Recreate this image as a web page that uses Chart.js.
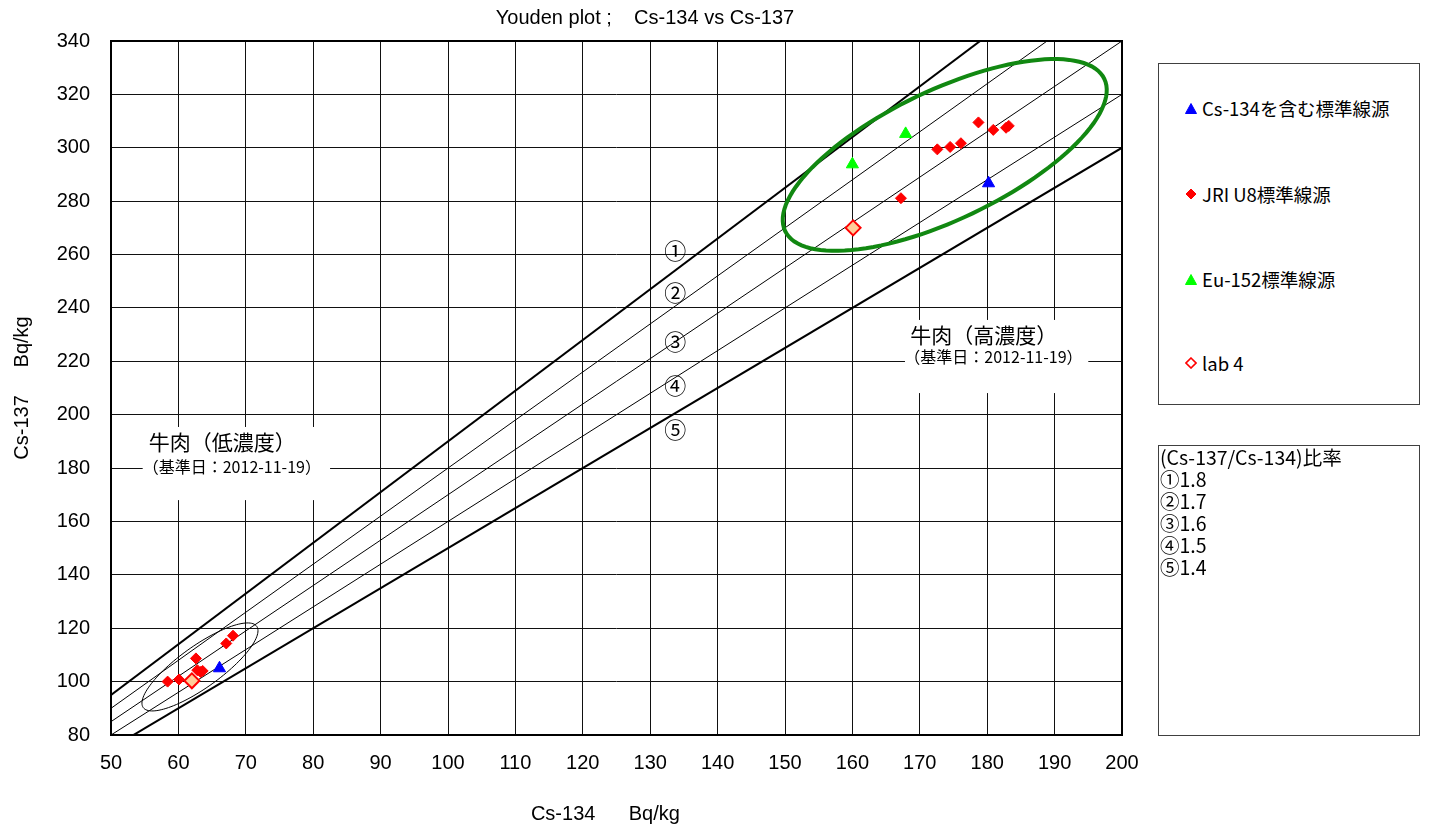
<!DOCTYPE html>
<html>
<head>
<meta charset="utf-8">
<title>Youden plot</title>
<script src="https://cdn.jsdelivr.net/npm/chart.js@4.4.1/dist/chart.umd.min.js"></script>
<style>
	body { margin: 0; background: #fff; }
	#chart-container { position: relative; width: 1429px; height: 828px; }
	#myChart { position: absolute; left: 0; top: 0; }
	.legendBox {
		position: absolute;
		box-sizing: border-box;
		border: 1px solid #404040;
		background: #fff;
		font-family: 'Noto Sans CJK JP', sans-serif;
		color: #000;
	}
	.legendItem { position: absolute; left: 26px; height: 26px; display: flex; align-items: center; white-space: nowrap; font-size: 18.5px; }
	.legendItem svg { margin-right: 5px; }
	.ratioLine { height: 22px; line-height: 22px; white-space: nowrap; font-size: 19.5px; }
</style>
</head>
<body>
<div id="chart-container">
	<canvas id="myChart" width="1429" height="828"></canvas>
	<div id="seriesLegend" class="legendBox" style="left:1158px; top:63px; width:262px; height:342px;"></div>
	<div id="ratioLegend" class="legendBox" style="left:1158px; top:445px; width:262px; height:291px; padding-left:1px;"></div>
</div>
<script>
	//Axis Ticks
	var xTickValues = [50, 60, 70, 80, 90, 100, 110, 120, 130, 140, 150, 160, 170, 180, 190, 200];
	var yTickValues = [80, 100, 120, 140, 160, 180, 200, 220, 240, 260, 280, 300, 320, 340];

	//Series Names
	var seriesNames = ["lab 4", "Cs-134を含む標準線源", "JRI U8標準線源", "Eu-152標準線源"];

	//Series Values (Cs-134, Cs-137)
	var lab4X = [160.1, 62.0];
	var lab4Y = [270.0, 100.3];
	var cs134StdX = [180.2, 66.1];
	var cs134StdY = [286.7, 105.0];
	var jriX = [167.2, 172.6, 174.5, 176.1, 178.7, 180.9, 182.8, 183.2, 58.4, 60.1, 62.6, 62.8, 63.3, 63.6, 67.1, 68.1];
	var jriY = [281.1, 299.4, 300.3, 301.7, 309.5, 306.7, 307.5, 308.2, 100.0, 100.8, 108.7, 104.3, 103.6, 104.0, 114.3, 117.2];
	var euX = [160.0, 167.9];
	var euY = [293.8, 305.2];

	//Ratio Lines (Cs-137/Cs-134) as drawn, and the ratio legend text
	var ratioLineValues = [1.9, 1.8, 1.7, 1.6, 1.5];
	var ratioMarks = ["①", "②", "③", "④", "⑤"];
	var ratioLegendValues = ["1.8", "1.7", "1.6", "1.5", "1.4"];
	var ratioLegendTitle = "(Cs-137/Cs-134)比率";

	//Sample Labels
	var sampleTitles = ["牛肉（高濃度）", "牛肉（低濃度）"];
	var sampleDates = ["（基準日：2012-11-19）", "（基準日：2012-11-19）"];

	//Styles and Placement (data units)
	var ratioLineWidths = [2, 1, 1, 1, 2];
	var ratioMarkX = 133.7;
	var ratioMarkY = [261.3, 245.6, 227.2, 210.7, 194.3];
	var sampleBoxes = [
		{ x0: 167.8, x1: 195.0, y0: 208.1, y1: 235.5, textX: 168.6, titleY: 229.8, dateY: 221.6 },
		{ x0: 54.7, x1: 82.5, y0: 168.0, y1: 195.4, textX: 55.6, titleY: 189.8, dateY: 180.4 }
	];
	var ellipses = [
		{ center: [173.7, 297.3], u: [23.68, 28.5], v: [4.13, -21.88], color: "#118811", width: 4 },
		{ center: [63.2, 105.5], u: [8.42, 15.22], v: [1.797, -6.34], color: "#000000", width: 1 }
	];

	var latinFont = "'Liberation Sans', Arial, sans-serif";
	var cjkFont = "'Noto Sans CJK JP', sans-serif";

	function toPoints(xs, ys) {
		var pts = [];
		for (var i = 0; i < xs.length; i++) {
			pts.push({ x: xs[i], y: ys[i] });
		}
		return pts;
	}

	//Build Datasets - first in list is drawn on top
	var datasets = [
		{
			label: seriesNames[0],
			data: toPoints(lab4X, lab4Y),
			pointStyle: "rectRot",
			pointRadius: 7.5,
			backgroundColor: "#ffcc99",
			borderColor: "#ff0000",
			borderWidth: 2
		},
		{
			label: seriesNames[1],
			data: toPoints(cs134StdX, cs134StdY),
			pointStyle: "triangle",
			pointRadius: 7,
			backgroundColor: "#0000ff",
			borderColor: "#0000ff",
			borderWidth: 1
		},
		{
			label: seriesNames[2],
			data: toPoints(jriX, jriY),
			pointStyle: "rectRot",
			pointRadius: 5.5,
			backgroundColor: "#ff0000",
			borderColor: "#ff0000",
			borderWidth: 1
		},
		{
			label: seriesNames[3],
			data: toPoints(euX, euY),
			pointStyle: "triangle",
			pointRadius: 7,
			backgroundColor: "#00ff00",
			borderColor: "#00ff00",
			borderWidth: 1
		}
	];
	var firstPointIndex = datasets.length - 1;

	//Ratio lines through the origin
	for (var r = 0; r < ratioLineValues.length; r++) {
		datasets.push({
			label: "ratio " + ratioLineValues[r],
			data: [{ x: 40, y: 40 * ratioLineValues[r] }, { x: 210, y: 210 * ratioLineValues[r] }],
			showLine: true,
			pointRadius: 0,
			borderColor: "#000000",
			borderWidth: ratioLineWidths[r],
			fill: false
		});
	}

	//Ellipses, sample label boxes and ratio marks
	var annotationPlugin = {
		id: "annotations",
		beforeDatasetDraw: function (chart, args) {
			if (args.index !== firstPointIndex) return;
			var ctx = chart.ctx;
			var xs = chart.scales.x;
			var ys = chart.scales.y;

			ctx.save();
			//Sample label boxes
			for (var b = 0; b < sampleBoxes.length; b++) {
				var box = sampleBoxes[b];
				var left = xs.getPixelForValue(box.x0);
				var right = xs.getPixelForValue(box.x1);
				var top = ys.getPixelForValue(box.y1);
				var bottom = ys.getPixelForValue(box.y0);
				ctx.fillStyle = "#ffffff";
				ctx.fillRect(left, top, right - left, bottom - top);
				ctx.fillStyle = "#000000";
				ctx.textAlign = "left";
				ctx.textBaseline = "middle";
				ctx.font = "21px " + cjkFont;
				ctx.fillText(sampleTitles[b], xs.getPixelForValue(box.textX), ys.getPixelForValue(box.titleY));
				ctx.font = "16px " + cjkFont;
				ctx.fillText(sampleDates[b], xs.getPixelForValue(box.textX) - 6, ys.getPixelForValue(box.dateY));
			}

			//Ellipses
			for (var e = 0; e < ellipses.length; e++) {
				var el = ellipses[e];
				var cx = xs.getPixelForValue(el.center[0]);
				var cy = ys.getPixelForValue(el.center[1]);
				var ux = xs.getPixelForValue(el.center[0] + el.u[0]) - cx;
				var uy = ys.getPixelForValue(el.center[1] + el.u[1]) - cy;
				var vx = xs.getPixelForValue(el.center[0] + el.v[0]) - cx;
				var vy = ys.getPixelForValue(el.center[1] + el.v[1]) - cy;
				ctx.beginPath();
				for (var i = 0; i <= 120; i++) {
					var t = i / 120 * Math.PI * 2;
					var px = cx + ux * Math.cos(t) + vx * Math.sin(t);
					var py = cy + uy * Math.cos(t) + vy * Math.sin(t);
					if (i === 0) ctx.moveTo(px, py); else ctx.lineTo(px, py);
				}
				ctx.closePath();
				ctx.strokeStyle = el.color;
				ctx.lineWidth = el.width;
				ctx.stroke();
			}

			//Ratio marks
			ctx.fillStyle = "#000000";
			ctx.textAlign = "center";
			ctx.textBaseline = "middle";
			ctx.font = "22px " + cjkFont;
			for (var m = 0; m < ratioMarks.length; m++) {
				ctx.fillText(ratioMarks[m], xs.getPixelForValue(ratioMarkX), ys.getPixelForValue(ratioMarkY[m]));
			}
			ctx.restore();
		},
		afterDraw: function (chart) {
			var ctx = chart.ctx;
			var area = chart.chartArea;
			ctx.save();
			//Plot border
			ctx.strokeStyle = "#000000";
			ctx.lineWidth = 2;
			ctx.strokeRect(area.left, area.top, area.right - area.left, area.bottom - area.top);
			//Chart title
			ctx.fillStyle = "#000000";
			ctx.font = "20px " + latinFont;
			ctx.textAlign = "center";
			ctx.textBaseline = "middle";
			ctx.fillText("Youden plot ;    Cs-134 vs Cs-137", 645, 18);
			ctx.restore();
		}
	};

	//Create Chart
	var ctx = document.getElementById("myChart").getContext("2d");
	var myChart = new Chart(ctx, {
		type: "scatter",
		data: { datasets: datasets },
		options: {
			responsive: false,
			animation: false,
			layout: { padding: { left: 0, right: 307, top: 41, bottom: 0 } },
			plugins: {
				legend: { display: false },
				tooltip: { enabled: false },
				title: { display: false }
			},
			scales: {
				x: {
					type: "linear",
					min: xTickValues[0],
					max: xTickValues[xTickValues.length - 1],
					afterBuildTicks: function (scale) {
						scale.ticks = xTickValues.map(function (v) { return { value: v }; });
					},
					afterFit: function (scale) { scale.height = 93; },
					grid: { color: "#111111", lineWidth: 1, drawTicks: false },
					border: { display: false },
					ticks: { autoSkip: false, maxRotation: 0, padding: 16, color: "#000", font: { family: latinFont, size: 20 } },
					title: {
						display: true,
						text: "Cs-134      Bq/kg    ",
						color: "#000",
						font: { family: latinFont, size: 20 },
						padding: { top: 4, bottom: 2 }
					}
				},
				y: {
					type: "linear",
					min: yTickValues[0],
					max: yTickValues[yTickValues.length - 1],
					afterBuildTicks: function (scale) {
						scale.ticks = yTickValues.map(function (v) { return { value: v }; });
					},
					afterFit: function (scale) { scale.width = 111; },
					grid: { color: "#111111", lineWidth: 1, drawTicks: false },
					border: { display: false },
					ticks: { autoSkip: false, padding: 21, color: "#000", font: { family: latinFont, size: 20 } },
					title: {
						display: true,
						text: "Cs-137     Bq/kg",
						color: "#000",
						font: { family: latinFont, size: 20 },
						padding: { top: 10, bottom: 4 }
					}
				}
			}
		},
		plugins: [annotationPlugin]
	});

	//Series Legend (marker + name)
	function markerSvg(ds) {
		var fill = ds.backgroundColor;
		var stroke = ds.borderColor;
		if (ds.pointStyle === "triangle") {
			return '<svg width="12" height="11"><polygon points="6,0.5 11.5,10.5 0.5,10.5" fill="' + fill + '" stroke="' + stroke + '"/></svg>';
		}
		if (ds.label === seriesNames[0]) {
			fill = "#ffffff";
		}
		return '<svg width="12" height="12"><polygon points="6,1 11,6 6,11 1,6" fill="' + fill + '" stroke="' + stroke + '" stroke-width="' + (ds.borderWidth > 1 ? 1.6 : 1) + '"/></svg>';
	}
	var legendOrder = [1, 2, 3, 0];
	var legendTops = [31, 117, 202, 286];
	var legendHtml = "";
	for (var k = 0; k < legendOrder.length; k++) {
		var ds = datasets[legendOrder[k]];
		legendHtml += '<div class="legendItem" style="top:' + legendTops[k] + 'px">' + markerSvg(ds) + '<span>' + ds.label + '</span></div>';
	}
	document.getElementById("seriesLegend").innerHTML = legendHtml;

	//Ratio Legend
	var ratioHtml = '<div class="ratioLine">' + ratioLegendTitle + '</div>';
	for (var n = 0; n < ratioMarks.length; n++) {
		ratioHtml += '<div class="ratioLine">' + ratioMarks[n] + ratioLegendValues[n] + '</div>';
	}
	document.getElementById("ratioLegend").innerHTML = ratioHtml;
</script>
</body>
</html>
